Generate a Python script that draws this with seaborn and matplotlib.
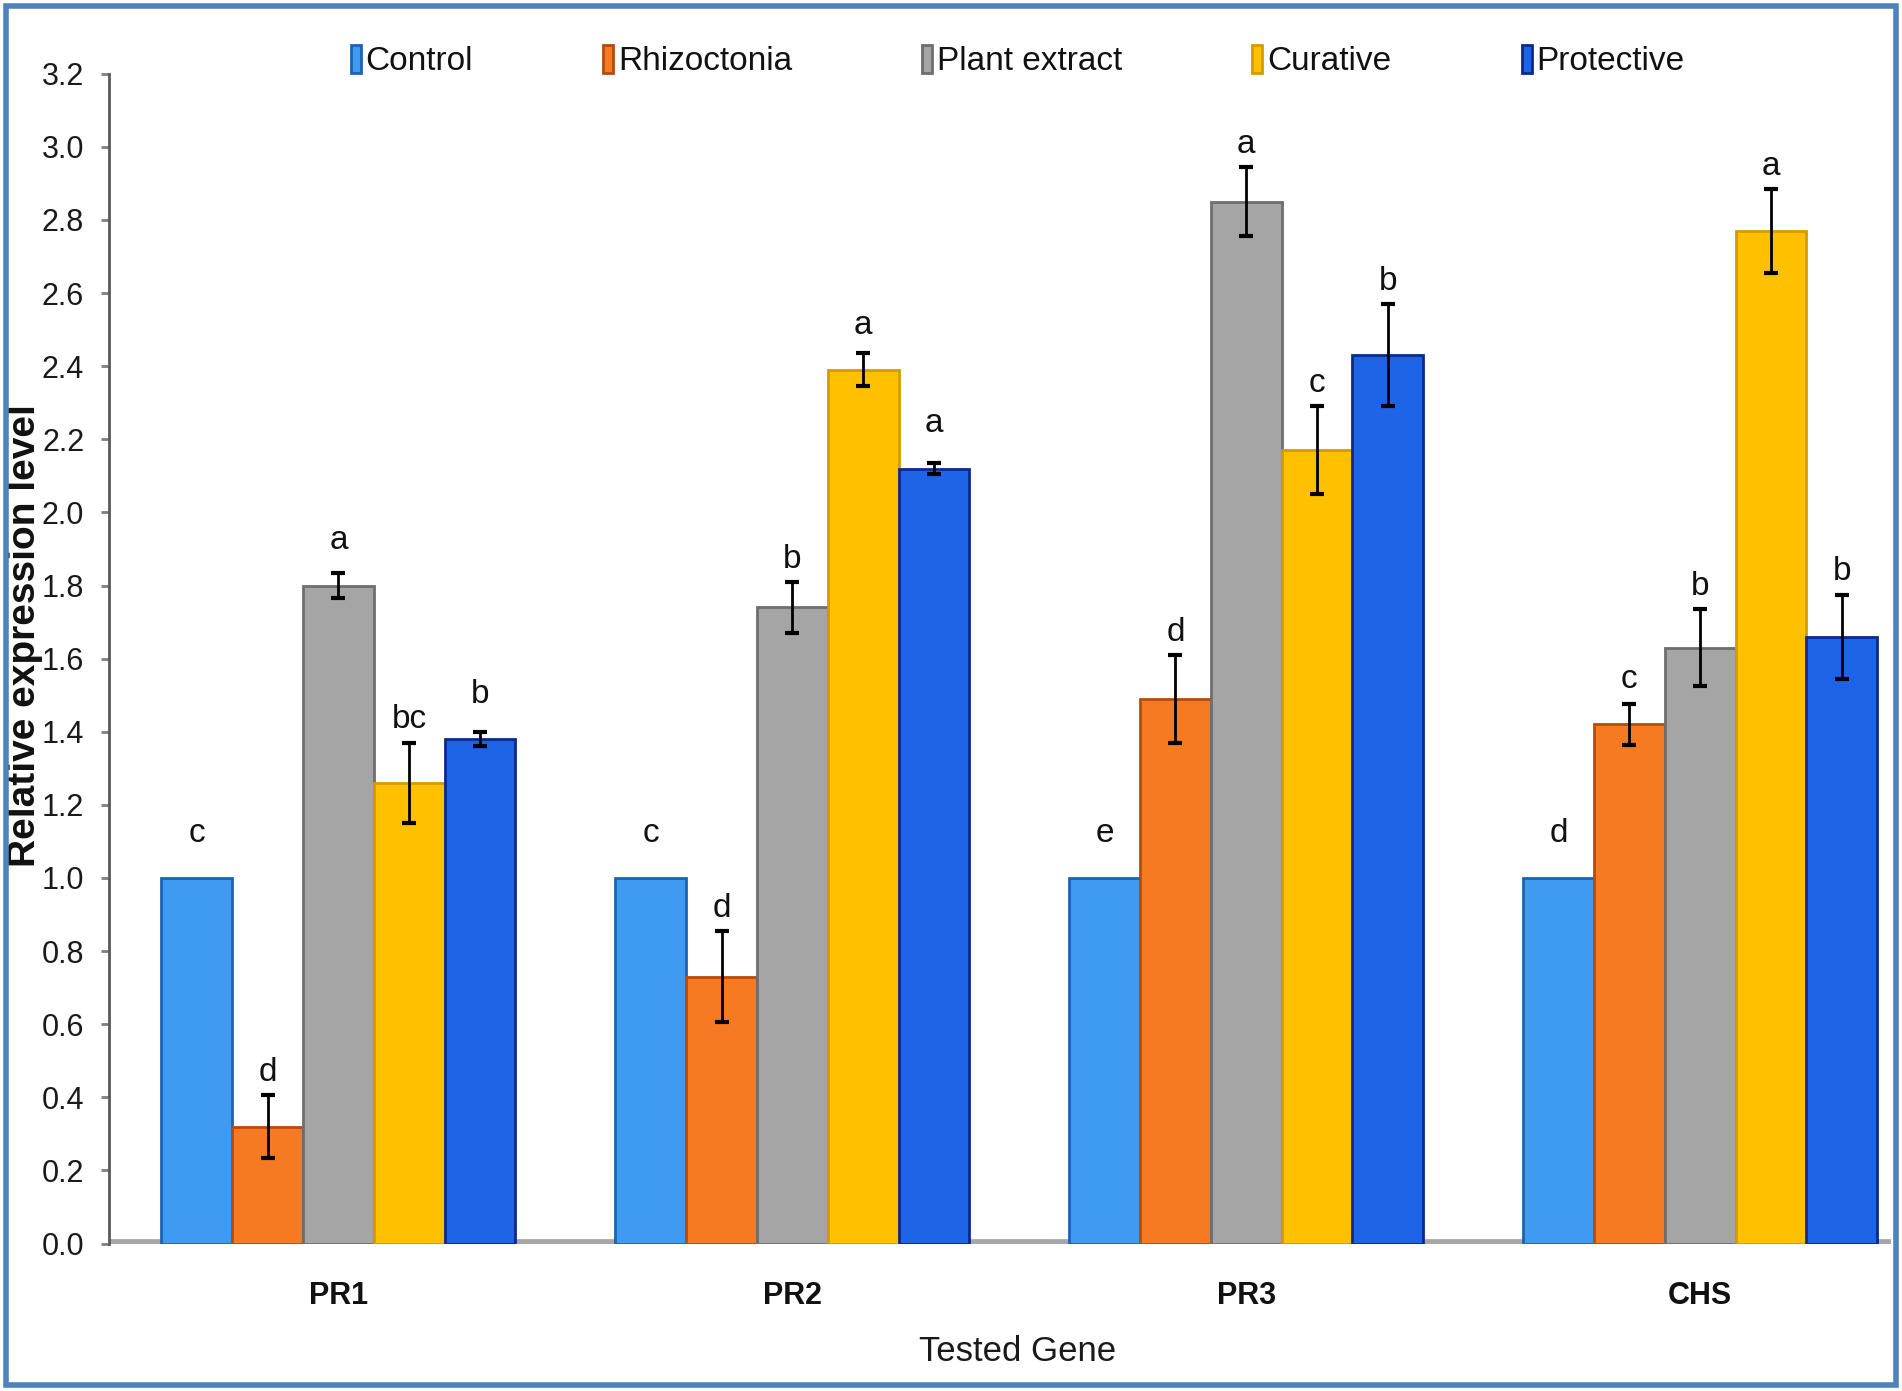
# Relative expression of defence genes - grouped bar chart
import numpy as np
import pandas as pd
import matplotlib
matplotlib.use("Agg")
import matplotlib.pyplot as plt
import seaborn as sns
from matplotlib.patches import Rectangle
from matplotlib import font_manager

# ==========================================
# DATA
# ==========================================

genes = ["PR1", "PR2", "PR3", "CHS"]
treatments = ["Control", "Rhizoctonia", "Plant extract", "Curative", "Protective"]

control = [1.00, 1.00, 1.00, 1.00]
rhizoctonia = [0.32, 0.73, 1.49, 1.42]
plant_extract = [1.80, 1.74, 2.85, 1.63]
curative = [1.26, 2.39, 2.17, 2.77]
protective = [1.38, 2.12, 2.43, 1.66]

control_err = [0.0, 0.0, 0.0, 0.0]
rhizoctonia_err = [0.085, 0.125, 0.12, 0.055]
plant_extract_err = [0.035, 0.07, 0.095, 0.105]
curative_err = [0.11, 0.045, 0.12, 0.115]
protective_err = [0.02, 0.015, 0.14, 0.115]

control_letters = ["c", "c", "e", "d"]
rhizoctonia_letters = ["d", "d", "d", "c"]
plant_extract_letters = ["a", "b", "a", "b"]
curative_letters = ["bc", "a", "c", "a"]
protective_letters = ["b", "a", "b", "b"]

colors = ["#3E9BEF", "#F57A22", "#A5A5A5", "#FFC000", "#1E64E6"]
edges = ["#1C63B5", "#B94A0C", "#6E6E6E", "#D49B00", "#0A2A8C"]

values = [control, rhizoctonia, plant_extract, curative, protective]
errors = [control_err, rhizoctonia_err, plant_extract_err, curative_err, protective_err]
letters = [control_letters, rhizoctonia_letters, plant_extract_letters,
           curative_letters, protective_letters]

rows = []
for t, vals in zip(treatments, values):
    for g, v in zip(genes, vals):
        rows.append({"gene": g, "treatment": t, "value": v})
df = pd.DataFrame(rows)

# ==========================================
# FONTS (narrow if available, else Arial-like)
# ==========================================

sns.set_style("white")
installed = {f.name for f in font_manager.fontManager.ttflist}
if "Liberation Sans Narrow" in installed:
    narrow, k = "Liberation Sans Narrow", 1.15
else:
    narrow, k = "Liberation Sans", 1.0
plt.rcParams["font.family"] = [narrow, "DejaVu Sans"]

# ==========================================
# PLOT
# ==========================================

fig = plt.figure(figsize=(19.02, 13.91), dpi=100)
ax = fig.add_axes([0.0574, 0.106, 0.9367, 0.841])

sns.barplot(
    data=df, x="gene", y="value", hue="treatment",
    order=genes, hue_order=treatments, palette=colors,
    errorbar=None, width=0.78, saturation=1, ax=ax, zorder=3
)

bar_groups = list(ax.containers)

# edges, error bars and letters
for i, cont in enumerate(bar_groups):
    for j, bar in enumerate(cont.patches):
        bar.set_edgecolor(edges[i])
        bar.set_linewidth(2)
        xc = bar.get_x() + bar.get_width() / 2
        top = bar.get_height()
        err = errors[i][j]
        if err > 0:
            ax.errorbar(xc, top, yerr=err, fmt="none", ecolor="black",
                        elinewidth=2, capsize=5, capthick=3, zorder=5)
        ax.text(xc, top + max(err, 0.06) + 0.02, letters[i][j],
                ha="center", va="bottom", fontsize=24 * k, color="#111111", zorder=6)

ax.set_ylim(0, 3.2)
ax.set_xlim(-0.505, 3.42)
ax.set_yticks(np.arange(0, 3.21, 0.2))
ax.set_yticklabels([f"{v:.1f}" for v in np.arange(0, 3.21, 0.2)])

for s in ["top", "right", "bottom"]:
    ax.spines[s].set_visible(False)
ax.spines["left"].set_color("#595959")
ax.spines["left"].set_linewidth(2)
ax.axhline(0, color="#A6A6A6", linewidth=7, zorder=2)

ax.tick_params(axis="y", which="major", left=True, length=6, width=2,
               color="#7F7F7F", labelsize=22 * k, labelcolor="#1A1A1A", pad=12)
ax.tick_params(axis="x", length=0, labelsize=22 * k, labelcolor="#111111", pad=27)
for lab in ax.get_xticklabels():
    lab.set_fontweight("bold")

ax.set_xlabel("Tested Gene", fontsize=25 * k, color="#1A1A1A")
ax.xaxis.set_label_coords(0.51, -0.078)
ax.set_ylabel("Relative expression level", fontsize=28, fontweight="bold",
              family=["Liberation Sans", "DejaVu Sans"], color="#111111")
ax.yaxis.set_label_coords(-0.037, 0.52)

# legend across the top
ax.get_legend().remove()
handles = [c.patches[0] for c in bar_groups]
leg = ax.legend(handles, treatments, ncol=5, loc="center",
                bbox_to_anchor=(0.535, 0.956), bbox_transform=fig.transFigure,
                frameon=False, fontsize=24 * k, handlelength=0.3, handleheight=0.9,
                handletextpad=0.15, columnspacing=3.9)
for t in leg.get_texts():
    t.set_color("#111111")

# blue border around the figure
fig.patches.append(Rectangle((0.003, 0.004), 0.994, 0.992, transform=fig.transFigure,
                             fill=False, edgecolor="#4F81BD", linewidth=4))

fig.savefig("out.png", dpi=100)
